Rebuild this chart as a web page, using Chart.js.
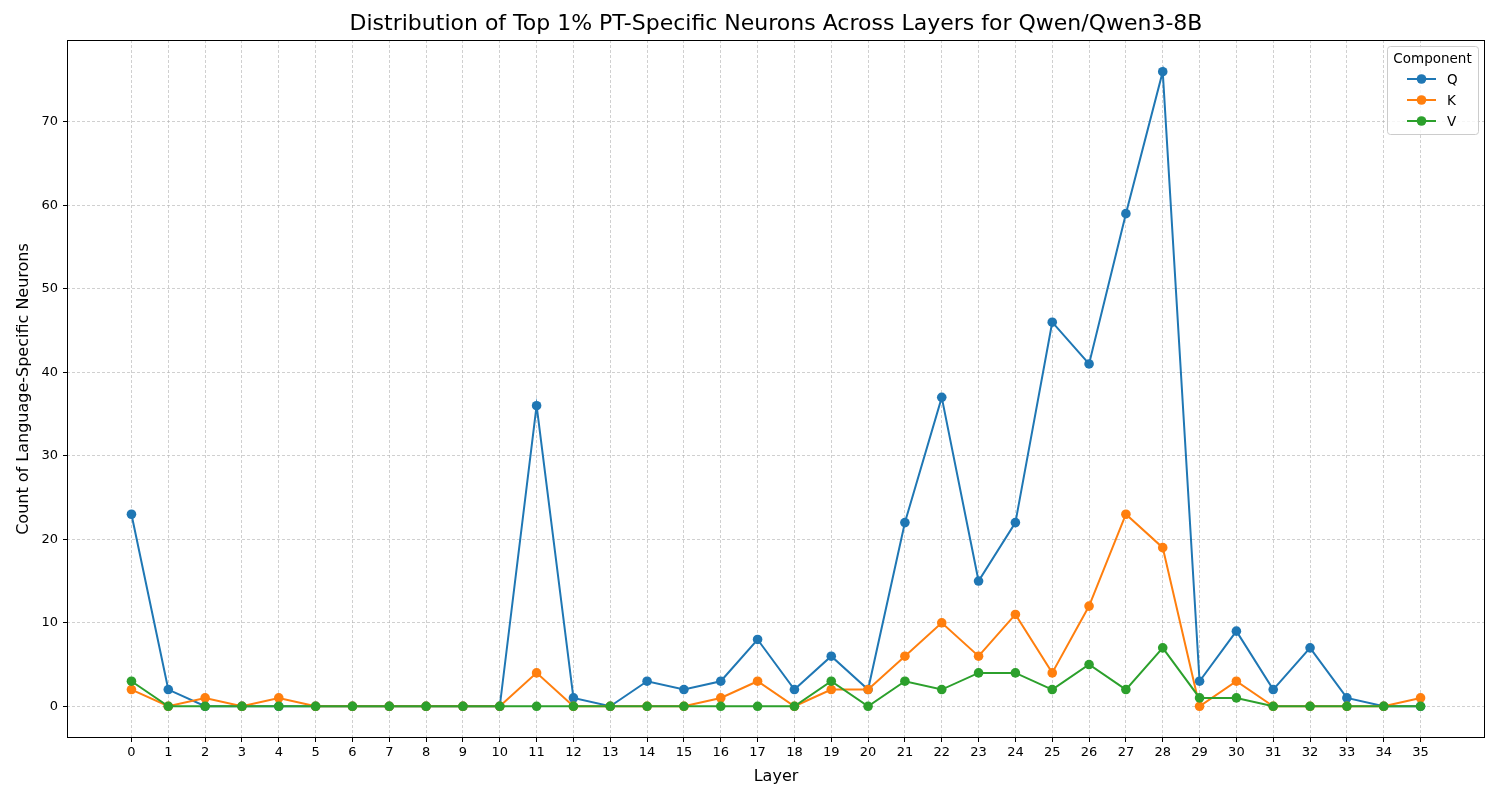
<!DOCTYPE html>
<html>
<head>
<meta charset="utf-8">
<script src="https://cdn.jsdelivr.net/npm/chart.js@4.4.1/dist/chart.umd.min.js"></script>
<style>
html,body{margin:0;padding:0;background:#fff;}
#wrap{width:1500px;height:800px;}
</style>
</head>
<body>
<div id="wrap"><canvas id="c" width="1500" height="800"></canvas></div>
<script>
const layers = [0,1,2,3,4,5,6,7,8,9,10,11,12,13,14,15,16,17,18,19,20,21,22,23,24,25,26,27,28,29,30,31,32,33,34,35];
const qCounts = [23,2,0,0,0,0,0,0,0,0,0,36,1,0,3,2,3,8,2,6,2,22,37,15,22,46,41,59,76,3,9,2,7,1,0,0];
const kCounts = [2,0,1,0,1,0,0,0,0,0,0,4,0,0,0,0,1,3,0,2,2,6,10,6,11,4,12,23,19,0,3,0,0,0,0,1];
const vCounts = [3,0,0,0,0,0,0,0,0,0,0,0,0,0,0,0,0,0,0,3,0,3,2,4,4,2,5,2,7,1,1,0,0,0,0,0];
const seriesNames = ['Q','K','V'];
const seriesColors = ['#1f77b4','#ff7f0e','#2ca02c'];
const yTicks = [0,10,20,30,40,50,60,70];
const titleText = 'Distribution of Top 1% PT-Specific Neurons Across Layers for Qwen/Qwen3-8B';
const xTitle = 'Layer';
const yTitle = 'Count of Language-Specific Neurons';
const legendTitle = 'Component';

const FONT = "'DejaVu Sans', sans-serif";
const allSeries = [qCounts,kCounts,vCounts];
const datasets = allSeries.map((arr,i)=>({
  label: seriesNames[i],
  data: layers.map((l,j)=>({x:l,y:arr[j]})),
  borderColor: seriesColors[i],
  backgroundColor: seriesColors[i],
  borderWidth: 2,
  pointRadius: 4.8,
  pointHoverRadius: 4.8,
  pointBorderWidth: 0,
  tension: 0,
  order: 3-i
}));

const framePlugin = {
  id:'frame',
  afterDraw(chart){
    const ctx = chart.ctx, a = chart.chartArea;
    ctx.save();
    ctx.strokeStyle = '#000'; ctx.lineWidth = 1;
    ctx.strokeRect(a.left+0.5, a.top+0.5, a.right-a.left-1, a.bottom-a.top-1);
    // title
    ctx.fillStyle = '#000';
    ctx.font = "22px " + FONT;
    ctx.textAlign = 'center'; ctx.textBaseline = 'middle';
    ctx.fillText(titleText, (a.left+a.right)/2, 24);
    // legend
    const bx = 1387, by = 46, bw = 91, bh = 88;
    ctx.fillStyle = 'rgba(255,255,255,0.8)';
    ctx.strokeStyle = '#cccccc';
    ctx.beginPath();
    if (ctx.roundRect) ctx.roundRect(bx+0.5,by+0.5,bw,bh,3); else ctx.rect(bx+0.5,by+0.5,bw,bh);
    ctx.fill(); ctx.stroke();
    ctx.fillStyle = '#000';
    ctx.font = "13.5px " + FONT;
    ctx.textAlign='center';
    ctx.fillText(legendTitle, bx+bw/2, by+13);
    chart.data.datasets.forEach((ds,i)=>{
      const y = by + 33 + i*21;
      ctx.strokeStyle = ds.borderColor; ctx.lineWidth = 2;
      ctx.beginPath(); ctx.moveTo(bx+20,y); ctx.lineTo(bx+49,y); ctx.stroke();
      ctx.fillStyle = ds.borderColor;
      ctx.beginPath(); ctx.arc(bx+34.5,y,4.8,0,Math.PI*2); ctx.fill();
      ctx.fillStyle='#000'; ctx.textAlign='left';
      ctx.fillText(ds.label, bx+60, y+1);
    });
    ctx.restore();
  }
};

const gridOpts = {color:'#b0b0b0', lineWidth:0.6, tickLength:4, tickColor:'#000', tickBorderDash:[], tickWidth:1};
const borderOpts = {display:false, dash:[3,2]};

new Chart(document.getElementById('c'), {
  type:'line',
  data:{datasets},
  options:{
    responsive:false,
    animation:false,
    devicePixelRatio:1,
    layout:{padding:{top:40,right:15,left:0,bottom:0}},
    plugins:{legend:{display:false},tooltip:{enabled:false},title:{display:false}},
    scales:{
      x:{
        type:'linear', min:-1.75, max:36.75,
        afterBuildTicks(s){ s.ticks = layers.map(v=>({value:v})); },
        afterFit(s){ s.height = 62; },
        grid:gridOpts,
        border:borderOpts,
        ticks:{color:'#000', font:{family:FONT,size:13}, padding:3, maxRotation:0, autoSkip:false, callback:v=>String(v)},
        title:{display:true,text:xTitle,color:'#000',font:{family:FONT,size:16},padding:{top:4,bottom:14}}
      },
      y:{
        type:'linear', min:-3.8, max:79.8,
        afterBuildTicks(s){ s.ticks = yTicks.map(v=>({value:v})); },
        afterFit(s){ s.width = 67; },
        grid:gridOpts,
        border:borderOpts,
        ticks:{color:'#000', font:{family:FONT,size:13}, padding:5, callback:v=>String(v)},
        title:{display:true,text:yTitle,color:'#000',font:{family:FONT,size:16},padding:{top:14,bottom:4}}
      }
    }
  },
  plugins:[framePlugin]
});
</script>
</body>
</html>
